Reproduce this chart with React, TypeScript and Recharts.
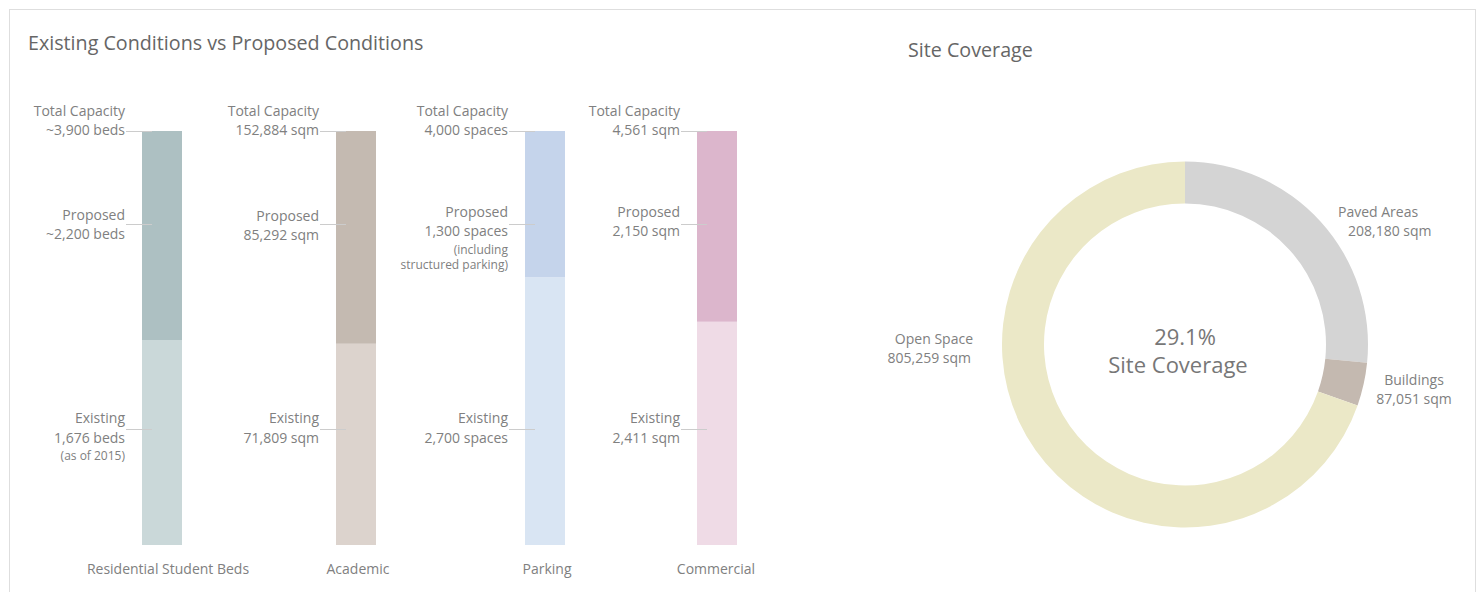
import React from 'react';
import { BarChart, Bar, XAxis, YAxis, ReferenceLine, PieChart, Pie, Cell } from 'recharts';

// ---------- data ----------
const categories = ['Residential Student Beds', 'Academic', 'Parking', 'Commercial'];
// share of each bar's height (percent)
const existingShare = [49.5, 48.6, 64.7, 53.9];
const proposedShare = [50.5, 51.4, 35.3, 46.1];
const totalValueLabels = ['~3,900 beds', '152,884 sqm', '4,000 spaces', '4,561 sqm'];
const proposedValueLabels = ['~2,200 beds', '85,292 sqm', '1,300 spaces', '2,150 sqm'];
const proposedNotes = [[], [], ['(including', 'structured parking)'], []];
const existingValueLabels = ['1,676 beds', '71,809 sqm', '2,700 spaces', '2,411 sqm'];
const existingNotes = [['(as of 2015)'], [], [], []];

const coverageNames = ['Paved Areas', 'Buildings', 'Open Space'];
const coverageShare = [26.6, 3.8, 69.6];
const coverageValueLabels = ['208,180 sqm', '87,051 sqm', '805,259 sqm'];
const coverageCenterLabels = ['29.1%', 'Site Coverage'];

const titles = ['Existing Conditions vs Proposed Conditions', 'Site Coverage'];

// ---------- styles / layout ----------
const FONT = '"Open Sans", "Noto Sans", sans-serif';
const LABEL_COLOR = '#808080';
const TITLE_COLOR = '#666666';
const LEADER_COLOR = '#cccccc';
const EXISTING_COLORS = ['#cad8d9', '#dcd3cd', '#d9e5f3', '#efdbe6'];
const PROPOSED_COLORS = ['#adc0c2', '#c4bab1', '#c5d4eb', '#dcb6cc'];
const PIE_COLORS = ['#d4d4d4', '#c4b9b0', '#ebe8c7'];

const BAR_CENTERS = [162, 356, 545, 717];
const TICK_DX = [6, 2, 2, -1];
const PROPOSED_SHIFT = [0, 1, -3, -3];
const LEVEL_TOTAL = 100;
const LEVEL_PROPOSED = 77.5;
const LEVEL_EXISTING = 28;

type Line = { text: string; dy: number; size?: number };

function LeaderLabel(props: any) {
  const vb = props.viewBox;
  const lines: Line[] = props.lines || [];
  if (!vb) return null;
  const cx = vb.x + vb.width / 2;
  const barLeft = cx - 20;
  const ly = Math.round(vb.y) + 0.5;
  return (
    <g>
      <line x1={barLeft - 16} x2={barLeft + 10} y1={ly} y2={ly} stroke={LEADER_COLOR} strokeWidth={1} />
      {lines.map((l, k) => (
        <text
          key={k}
          x={barLeft - 17}
          y={vb.y + l.dy}
          textAnchor="end"
          dominantBaseline="central"
          fontSize={l.size || 14}
          fontFamily={FONT}
          fill={LABEL_COLOR}
        >
          {l.text}
        </text>
      ))}
    </g>
  );
}

function CatTick(props: any) {
  const { x, y, payload, dx } = props;
  return (
    <text
      x={x + (dx || 0)}
      y={y + 23}
      textAnchor="middle"
      dominantBaseline="central"
      fontSize={14}
      fontFamily={FONT}
      fill={LABEL_COLOR}
    >
      {payload.value}
    </text>
  );
}

function BarPanel({ i }: { i: number }) {
  const data = [{ name: categories[i], existing: existingShare[i], proposed: proposedShare[i] }];
  const s = PROPOSED_SHIFT[i];
  const totalLines: Line[] = [
    { text: 'Total Capacity', dy: -21 },
    { text: totalValueLabels[i], dy: -2 },
  ];
  const proposedLines: Line[] = [
    { text: 'Proposed', dy: -10 + s },
    { text: proposedValueLabels[i], dy: 9 + s },
    ...proposedNotes[i].map((t, k) => ({ text: t, dy: 25 + k * 15, size: 12 })),
  ];
  const existingLines: Line[] = [
    { text: 'Existing', dy: -12 },
    { text: existingValueLabels[i], dy: 8 },
    ...existingNotes[i].map((t, k) => ({ text: t, dy: 26 + k * 15, size: 12 })),
  ];
  return (
    <div style={{ position: 'absolute', left: BAR_CENTERS[i] - 170, top: 90 }}>
      <BarChart width={340} height={510} data={data} margin={{ top: 41, right: 140, bottom: 25, left: 140 }}>
        <XAxis
          dataKey="name"
          axisLine={false}
          tickLine={false}
          tickSize={0}
          tickMargin={0}
          height={30}
          interval={0}
          tick={<CatTick dx={TICK_DX[i]} />}
        />
        <YAxis hide type="number" domain={[0, 100]} />
        <Bar dataKey="existing" stackId="s" fill={EXISTING_COLORS[i]} barSize={40} isAnimationActive={false} />
        <Bar dataKey="proposed" stackId="s" fill={PROPOSED_COLORS[i]} barSize={40} isAnimationActive={false} />
        <ReferenceLine y={LEVEL_TOTAL} stroke="none" label={<LeaderLabel lines={totalLines} />} />
        <ReferenceLine y={LEVEL_PROPOSED} stroke="none" label={<LeaderLabel lines={proposedLines} />} />
        <ReferenceLine y={LEVEL_EXISTING} stroke="none" label={<LeaderLabel lines={existingLines} />} />
      </BarChart>
    </div>
  );
}

const pieData = coverageNames.map((n, i) => ({ name: n, value: coverageShare[i] }));

export default function App() {
  return (
    <div
      style={{
        position: 'fixed',
        left: 0,
        top: 0,
        width: 1480,
        height: 592,
        overflow: 'hidden',
        background: '#ffffff',
        fontFamily: FONT,
      }}
    >
      <div
        style={{
          position: 'absolute',
          left: 9,
          top: 9,
          width: 1465,
          height: 620,
          border: '1px solid #dedede',
        }}
      />
      {[0, 1, 2, 3].map((i) => (
        <BarPanel key={i} i={i} />
      ))}
      <div style={{ position: 'absolute', left: 985, top: 145 }}>
        <PieChart width={400} height={400} margin={{ top: 0, right: 0, bottom: 0, left: 0 }}>
          <Pie
            data={pieData}
            dataKey="value"
            nameKey="name"
            cx={200}
            cy={199.5}
            innerRadius={141}
            outerRadius={183}
            startAngle={90}
            endAngle={-270}
            stroke="none"
            isAnimationActive={false}
          >
            {pieData.map((d, k) => (
              <Cell key={k} fill={PIE_COLORS[k]} />
            ))}
          </Pie>
        </PieChart>
      </div>
      <svg
        width={1480}
        height={592}
        style={{ position: 'absolute', left: 0, top: 0, pointerEvents: 'none' }}
        fontFamily={FONT}
      >
        <text x={28} y={42} fontSize={19.7} fill={TITLE_COLOR} dominantBaseline="central">
          {titles[0]}
        </text>
        <text x={908} y={49} fontSize={19.7} fill={TITLE_COLOR} dominantBaseline="central">
          {titles[1]}
        </text>
        {/* donut labels */}
        <text x={1338} y={211} fontSize={14} fill={LABEL_COLOR} dominantBaseline="central">
          {coverageNames[0]}
        </text>
        <text x={1348} y={230} fontSize={14} fill={LABEL_COLOR} dominantBaseline="central">
          {coverageValueLabels[0]}
        </text>
        <text x={1414} y={379} fontSize={14} fill={LABEL_COLOR} textAnchor="middle" dominantBaseline="central">
          {coverageNames[1]}
        </text>
        <text x={1414} y={398} fontSize={14} fill={LABEL_COLOR} textAnchor="middle" dominantBaseline="central">
          {coverageValueLabels[1]}
        </text>
        <text x={973} y={338} fontSize={14} fill={LABEL_COLOR} textAnchor="end" dominantBaseline="central">
          {coverageNames[2]}
        </text>
        <text x={971} y={357} fontSize={14} fill={LABEL_COLOR} textAnchor="end" dominantBaseline="central">
          {coverageValueLabels[2]}
        </text>
        <text x={1185} y={336} fontSize={22} fill="#777777" textAnchor="middle" dominantBaseline="central">
          {coverageCenterLabels[0]}
        </text>
        <text x={1178} y={364} fontSize={22} fill="#777777" textAnchor="middle" dominantBaseline="central">
          {coverageCenterLabels[1]}
        </text>
      </svg>
    </div>
  );
}
